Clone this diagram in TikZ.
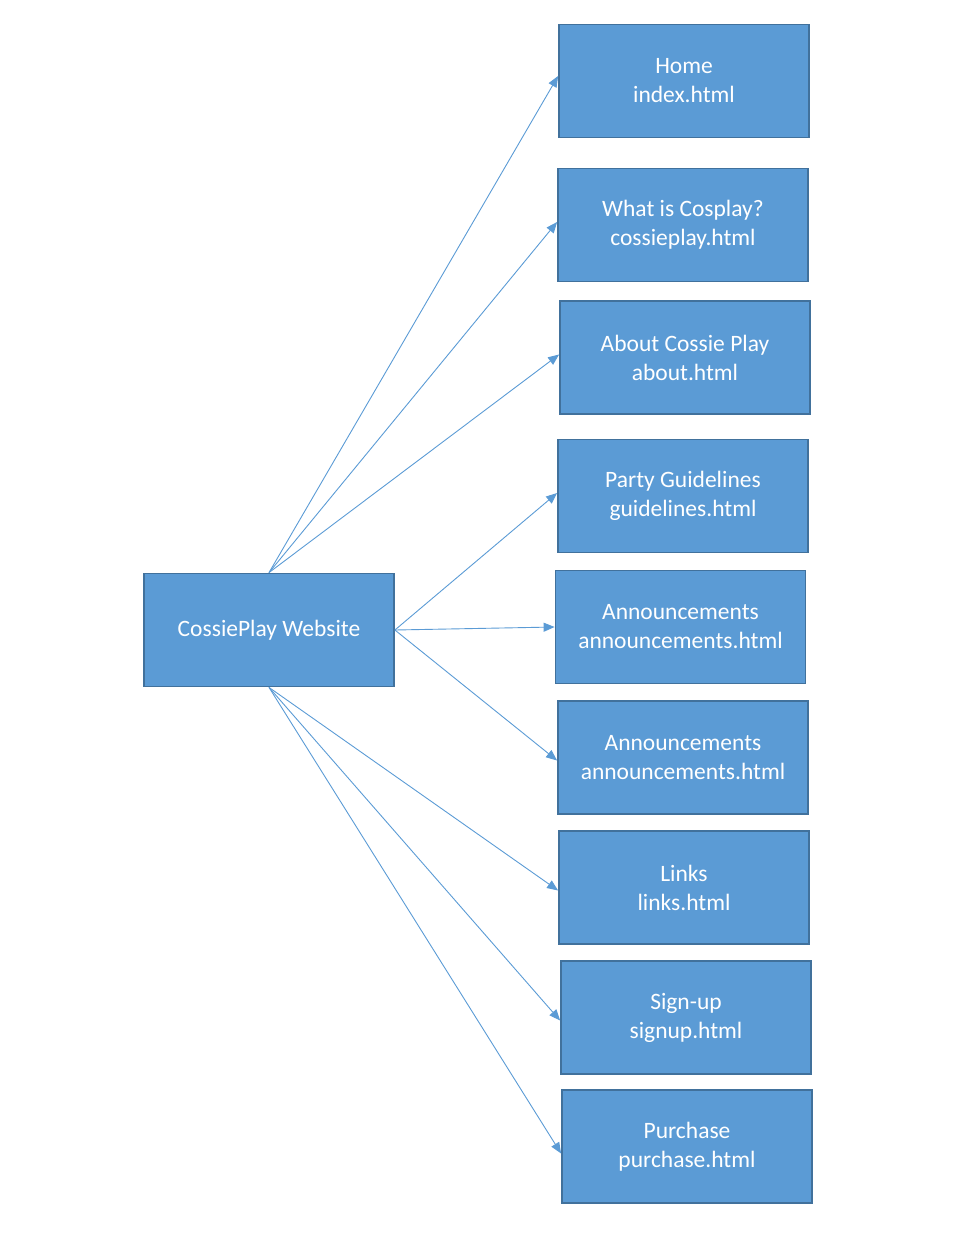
\documentclass[tikz,border=0pt]{standalone}
\usepackage{fontspec}
\setmainfont{Carlito}
\usetikzlibrary{arrows.meta}
\definecolor{boxfill}{HTML}{5B9BD5}
\definecolor{boxedge}{HTML}{41719C}
\definecolor{linkcol}{HTML}{5B9BD5}
\begin{document}
\begin{tikzpicture}[x=1pt,y=-1pt,
  page/.style={draw=boxedge,line width=1.8pt,fill=boxfill,text=white,
    minimum width=250pt,minimum height=113pt,align=center,inner sep=0pt,
    font=\fontsize{23.5}{29}\selectfont},
  link/.style={draw=linkcol,line width=0.9pt,-{Triangle[length=11pt,width=9pt]}}]
\useasboundingbox (0,0) rectangle (959,1235);
\node[page] (main) at (269,630) {\raisebox{-2pt}{CossiePlay Website}};
\node[page] (home) at (684,81) {Home\\index.html};
\node[page] (what) at (683,225) {What is Cosplay?\\cossieplay.html};
\node[page] (about) at (685,357.5) {About Cossie Play\\about.html};
\node[page] (party) at (683,496) {Party Guidelines\\guidelines.html};
\node[page] (ann1) at (680.5,627) {Announcements\\announcements.html};
\node[page] (ann2) at (683,757.5) {Announcements\\announcements.html};
\node[page] (links) at (684,887.5) {Links\\links.html};
\node[page] (sign) at (686,1017.5) {Sign-up\\signup.html};
\node[page] (purch) at (687,1146.5) {Purchase\\purchase.html};
\draw[link] (main.north) -- ([yshift=5pt]home.west);
\draw[link] (main.north) -- ([yshift=3pt]what.west);
\draw[link] (main.north) -- ([yshift=3pt]about.west);
\draw[link] (main.east) -- ([yshift=3pt]party.west);
\draw[link] (main.east) -- (ann1.west);
\draw[link] (main.east) -- ([yshift=-3pt]ann2.west);
\draw[link] (main.south) -- ([yshift=-3pt]links.west);
\draw[link] (main.south) -- ([yshift=-3pt]sign.west);
\draw[link] (main.south) -- ([yshift=-7pt]purch.west);
\end{tikzpicture}
\end{document}
